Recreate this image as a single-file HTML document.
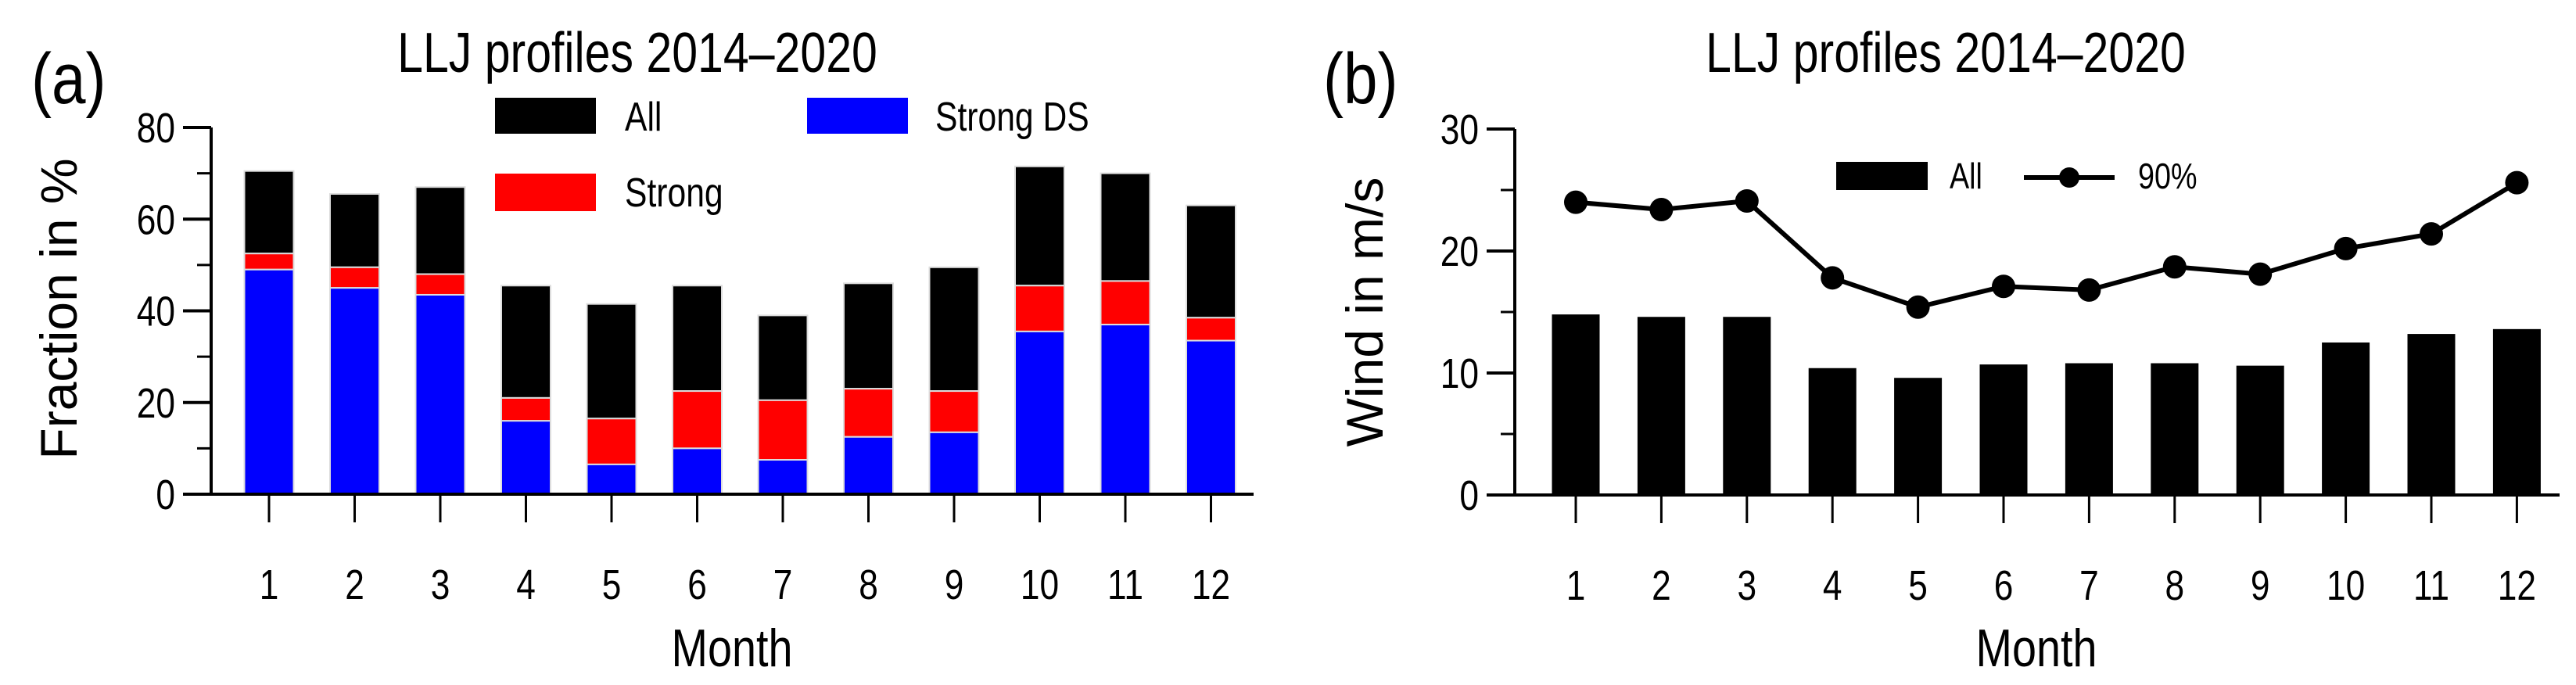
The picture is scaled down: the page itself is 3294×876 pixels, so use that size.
<!DOCTYPE html>
<html><head><meta charset="utf-8"><style>
html,body{margin:0;padding:0;background:#fff;}
svg{display:block;}
text{font-family:"Liberation Sans",sans-serif;fill:#000;}
</style></head><body>
<svg id="chart" width="3294" height="876" viewBox="0 0 3294 876" xmlns="http://www.w3.org/2000/svg">
<g id="pa"></g>
<g id="pb"></g>
</svg>
<script>
const months = [1,2,3,4,5,6,7,8,9,10,11,12];
const aAll = [70.5,65.5,67,45.5,41.5,45.5,39,46,49.5,71.5,70,63];
const aStrong = [52.5,49.5,48,21,16.5,22.5,20.5,23,22.5,45.5,46.5,38.5];
const aStrongDS = [49,45,43.5,16,6.5,10,7.5,12.5,13.5,35.5,37,33.5];
const aTicks = [0,20,40,60,80];
const aMinor = [10,30,50,70];
const bAll = [14.8,14.6,14.6,10.4,9.6,10.7,10.8,10.8,10.6,12.5,13.2,13.6];
const b90 = [24.0,23.4,24.1,17.8,15.4,17.1,16.8,18.7,18.1,20.2,21.4,25.6];
const bTicks = [0,10,20,30];
const bMinor = [5,15,25];

const NS='http://www.w3.org/2000/svg';
function mk(parent,tag,attrs,txt){const e=document.createElementNS(NS,tag);for(const k in attrs)e.setAttribute(k,attrs[k]);if(txt!==undefined)e.textContent=txt;parent.appendChild(e);return e;}
function ntext(parent,x,y,anchor,size,txt){return mk(parent,'text',{transform:'translate('+x+','+y+') scale(0.82,1)','text-anchor':anchor,'font-size':size},txt);}

function axes(g,o){
  const ys=v=>o.y0-(v-o.vmin)/(o.vmax-o.vmin)*(o.y0-o.y1);
  const xs=i=>o.xc1+i*o.dx;
  const ax=mk(g,'line',{x1:o.axX,y1:o.y1,x2:o.axX,y2:o.y0,stroke:'#000','stroke-width':4});
  
  
  o.ticks.forEach(t=>{
    const l=mk(g,'line',{x1:o.axX-36,y1:ys(t),x2:o.axX,y2:ys(t),stroke:'#000','stroke-width':4});
    
    
    const tx=ntext(g,o.axX-46,ys(t)+19,'end',54,String(t));
    
    
  });
  o.minor.forEach(t=>{
    const l=mk(g,'line',{x1:o.axX-18,y1:ys(t),x2:o.axX,y2:ys(t),stroke:'#000','stroke-width':3});
    
    
  });
  months.forEach((m,i)=>{
    const l=mk(g,'line',{x1:xs(i),y1:o.y0,x2:xs(i),y2:o.y0+36,stroke:'#000','stroke-width':3});
    
    
    const tx=ntext(g,xs(i),o.y0+134,'middle',54,String(m));
    
    
  });
  return {ys,xs};
}

// Panel A
(function(){
  const g=document.getElementById('pa');
  const o={axX:270,y0:632,y1:163,vmin:0,vmax:80,xc1:344,dx:109.5,ticks:aTicks,minor:aMinor};
  const {ys,xs}=axes(g,o);
  const w=63;
  months.forEach((m,i)=>{
    const x=xs(i)-w/2;
    const r1=mk(g,'rect',{x:x,y:ys(aAll[i]),width:w,height:ys(aStrong[i])-ys(aAll[i]),fill:'#000',stroke:'#ddd','stroke-width':2});
    
    
    const r2=mk(g,'rect',{x:x,y:ys(aStrong[i]),width:w,height:ys(aStrongDS[i])-ys(aStrong[i]),fill:'#ff0000',stroke:'#ddd','stroke-width':2});
    
    
    const r3=mk(g,'rect',{x:x,y:ys(aStrongDS[i]),width:w,height:ys(0)-ys(aStrongDS[i]),fill:'#0000ff',stroke:'#ddd','stroke-width':2});
    
    
  });
  const xa=mk(g,'line',{x1:234,y1:632,x2:1603,y2:632,stroke:'#000','stroke-width':4});
  
  
})();

// Panel B
(function(){
  const g=document.getElementById('pb');
  const o={axX:1937,y0:633,y1:165,vmin:0,vmax:30,xc1:2015,dx:109.4,ticks:bTicks,minor:bMinor};
  const {ys,xs}=axes(g,o);
  const w=61;
  months.forEach((m,i)=>{
    const r=mk(g,'rect',{x:xs(i)-w/2,y:ys(bAll[i]),width:w,height:ys(0)-ys(bAll[i]),fill:'#000'});
    
    
  });
  const pts=b90.map((v,i)=>xs(i)+','+ys(v)).join(' ');
  const pl=mk(g,'polyline',{points:pts,fill:'none',stroke:'#000','stroke-width':6});
  
  
  b90.forEach((v,i)=>{
    const c=mk(g,'circle',{cx:xs(i),cy:ys(v),r:15,fill:'#000'});
    
    
  });
  const xa=mk(g,'line',{x1:1901,y1:633,x2:3273,y2:633,stroke:'#000','stroke-width':4});
  
  
})();
</script>
<svg style="position:absolute;left:0;top:0" width="3294" height="876" viewBox="0 0 3294 876" xmlns="http://www.w3.org/2000/svg">
<g font-family="Liberation Sans, sans-serif">
<text transform="translate(40,132) scale(0.85,1)" font-size="92">(a)</text>
<text transform="translate(815,92) scale(0.82,1)" font-size="72" text-anchor="middle">LLJ profiles 2014–2020</text>
<text transform="translate(98,395) rotate(-90)" font-size="66" text-anchor="middle">Fraction in %</text>
<text transform="translate(936,852) scale(0.82,1)" font-size="68" text-anchor="middle">Month</text>
<rect x="633" y="125" width="129" height="46" fill="#000"/>
<text transform="translate(799,167) scale(0.82,1)" font-size="52">All</text>
<rect x="1032" y="125" width="129" height="46" fill="#0000ff"/>
<text transform="translate(1196,167) scale(0.82,1)" font-size="52">Strong DS</text>
<rect x="633" y="222" width="129" height="48" fill="#ff0000"/>
<text transform="translate(799,264) scale(0.82,1)" font-size="52">Strong</text>

<text transform="translate(1692,132) scale(0.85,1)" font-size="92">(b)</text>
<text transform="translate(2488,92) scale(0.82,1)" font-size="72" text-anchor="middle">LLJ profiles 2014–2020</text>
<text transform="translate(1768,399) rotate(-90)" font-size="66" text-anchor="middle">Wind in m/s</text>
<text transform="translate(2604,852) scale(0.82,1)" font-size="68" text-anchor="middle">Month</text>
<rect x="2348" y="207" width="117" height="36" fill="#000"/>
<text transform="translate(2493,241) scale(0.82,1)" font-size="46">All</text>
<line x1="2588" y1="227" x2="2704" y2="227" stroke="#000" stroke-width="6"/>
<circle cx="2646" cy="227" r="13" fill="#000"/>
<text transform="translate(2734,241) scale(0.82,1)" font-size="46">90%</text>
</g>
</svg>
</body></html>
